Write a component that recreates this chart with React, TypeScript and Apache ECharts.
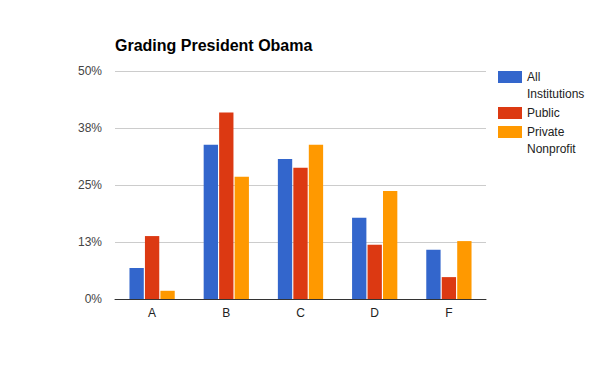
import React, { useEffect, useRef } from "react";
import * as echarts from "echarts";

const categories = ["A", "B", "C", "D", "F"];
const allInstitutions = [6.8, 33.8, 30.7, 17.8, 10.8];
const publicInst = [13.8, 40.9, 28.8, 11.9, 4.8];
const privateNonprofit = [1.8, 26.8, 33.8, 23.7, 12.7];
const seriesNames = ["All Institutions", "Public", "Private Nonprofit"];
const legendLines = [["All", "Institutions"], ["Public"], ["Private", "Nonprofit"]];
const colors = ["#3366cc", "#dc3912", "#ff9900"];
const yTicks = [0, 12.5, 25, 37.5, 50];

const FONT = "Arial, 'Liberation Sans', sans-serif";

export default function App() {
  const ref = useRef<HTMLDivElement>(null);
  useEffect(() => {
    if (!ref.current) return;
    const chart = echarts.init(ref.current, null, { renderer: "svg" });
    const data = [allInstitutions, publicInst, privateNonprofit];

    const legendGraphics: any[] = [];
    let y = 71;
    legendLines.forEach((lines, i) => {
      legendGraphics.push({
        type: "rect",
        shape: { x: 498, y: y, width: 24, height: 12 },
        style: { fill: colors[i] },
      });
      lines.forEach((ln, j) => {
        legendGraphics.push({
          type: "text",
          x: 527,
          y: y + 6 + j * 17,
          style: {
            text: ln,
            fill: "#222",
            font: `12px ${FONT}`,
            textVerticalAlign: "middle",
            textAlign: "left",
          },
        });
      });
      y += lines.length * 17 + 2;
    });

    chart.setOption({
      animation: false,
      textStyle: { fontFamily: FONT },
      title: {
        text: "Grading President Obama",
        left: 110,
        top: 32,
        textStyle: { fontSize: 16, fontWeight: "bold", color: "#000", fontFamily: FONT },
      },
      grid: { left: 115, right: 114, top: 71, bottom: 72, containLabel: false },
      xAxis: {
        type: "category",
        data: categories,
        axisLine: { show: true, lineStyle: { color: "#333", width: 1 } },
        axisTick: { show: false },
        axisLabel: { color: "#222", fontSize: 12, margin: 8, fontFamily: FONT },
      },
      yAxis: {
        type: "value",
        min: 0,
        max: 50,
        interval: 12.5,
        axisLine: { show: false },
        axisTick: { show: false },
        splitLine: { lineStyle: { color: "#cccccc", width: 1 } },
        axisLabel: {
          color: "#444",
          fontSize: 12,
          margin: 13,
          fontFamily: FONT,
          formatter: (v: number) => (yTicks.includes(v) ? Math.round(v) + "%" : ""),
        },
      },
      series: seriesNames.map((name, i) => ({
        name,
        type: "bar",
        data: data[i],
        itemStyle: { color: colors[i] },
        barCategoryGap: "39%",
        barGap: "8%",
      })),
      graphic: legendGraphics,
    });
    return () => chart.dispose();
  }, []);
  return <div ref={ref} style={{ width: 600, height: 371, position: "absolute", left: 0, top: 0 }} />;
}
